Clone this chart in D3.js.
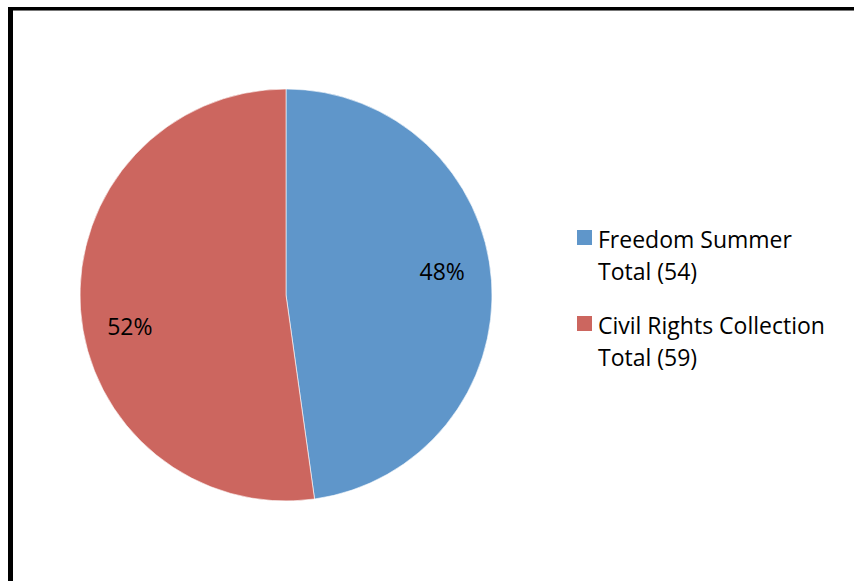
<!DOCTYPE html>
<html>
<head>
<meta charset="utf-8">
<script src="https://cdn.jsdelivr.net/npm/d3@7"></script>
<style>
  html, body { margin: 0; padding: 0; background: #fff; }
  svg { display: block; }
</style>
</head>
<body>
<svg id="chart" width="854" height="581"></svg>
<script>
// Collection totals
const categories = ["Freedom Summer", "Civil Rights Collection"];
const totals = [54, 59];
const colors = ["#5F96CA", "#CC665F"];

const width = 854, height = 581;
const svg = d3.select("#chart");
const font = "'Open Sans', Lato, sans-serif";
const fontSize = 23;

// Chart frame (extends past the right and bottom edges)
svg.append("line").attr("x1", 8).attr("x2", width).attr("y1", 8.5).attr("y2", 8.5)
  .attr("stroke", "#000").attr("stroke-width", 3);
svg.append("line").attr("x1", 13).attr("x2", width).attr("y1", 10.5).attr("y2", 10.5)
  .attr("stroke", "#777").attr("stroke-width", 1);
svg.append("line").attr("x1", 10.5).attr("x2", 10.5).attr("y1", 7).attr("y2", height)
  .attr("stroke", "#000").attr("stroke-width", 5);

// Pie
const cx = 286, cy = 295, R = 206;
const data = categories.map((c, i) => ({ name: c, value: totals[i], color: colors[i] }));
const pie = d3.pie().value(d => d.value).sort(null);
const arcs = pie(data);
const arc = d3.arc().innerRadius(0).outerRadius(R);

const g = svg.append("g").attr("transform", `translate(${cx},${cy})`);
g.selectAll("path.slice").data(arcs).join("path")
  .attr("class", "slice")
  .attr("d", arc)
  .attr("fill", d => d.data.color)
  .attr("stroke", "#fff")
  .attr("stroke-width", 0.6);

// Percentage labels, placed slightly before each slice's mid-angle
const sum = d3.sum(totals);
const labelR = R * 0.77;
const labelAngle = d => (d.startAngle + d.endAngle) / 2 - 6 * Math.PI / 180;
g.selectAll("text.pct").data(arcs).join("text")
  .attr("class", "pct")
  .attr("x", d => labelR * Math.sin(labelAngle(d)))
  .attr("y", d => -labelR * Math.cos(labelAngle(d)))
  .attr("dy", "0.55em")
  .attr("text-anchor", "middle")
  .attr("font-family", font)
  .attr("font-size", fontSize)
  .attr("fill", "#000")
  .text(d => Math.round(d.data.value / sum * 100) + "%");

// Legend
const legendX = 577, legendY = 230, legendStep = 86;
const leg = svg.append("g");
data.forEach((d, i) => {
  const y = legendY + i * legendStep;
  leg.append("rect").attr("x", legendX).attr("y", y)
    .attr("width", 15).attr("height", 15).attr("fill", d.color);
  const t = leg.append("text")
    .attr("x", legendX + 21).attr("y", y + 18)
    .attr("font-family", font).attr("font-size", fontSize).attr("fill", "#000");
  t.append("tspan").attr("x", legendX + 21).text(d.name);
  t.append("tspan").attr("x", legendX + 21).attr("dy", 32).text(`Total (${d.value})`);
});
</script>
</body>
</html>
